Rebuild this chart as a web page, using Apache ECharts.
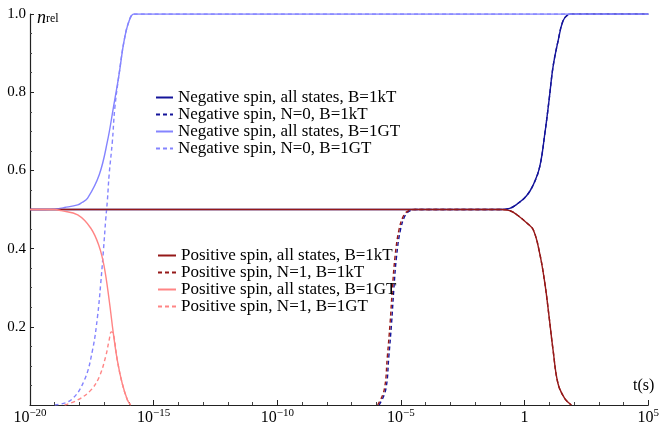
<!DOCTYPE html>
<html>
<head>
<meta charset="utf-8">
<script src="https://cdn.jsdelivr.net/npm/echarts@6/dist/echarts.min.js"></script>
<style>
  html, body { margin: 0; padding: 0; background: #fff; }
  #chart { width: 662px; height: 428px; }
</style>
</head>
<body>
<div id="chart"></div>
<script>
// x values are log10(t / s), y values are n_rel
const negAll1kT_x = [-20, -1.5, -1.0, -0.6, -0.3, 0.08, 0.35, 0.61, 0.82, 0.99, 1.15, 1.35, 1.55, 1.75, 1.9, 2.2, 5]
const negAll1kT_y = [0.5, 0.5, 0.5, 0.503, 0.514, 0.535, 0.563, 0.609, 0.695, 0.78, 0.865, 0.93, 0.982, 0.998, 1.0, 1.0, 1.0]

const negN01kT_x = [-5.88, -5.62, -5.49, -5.38, -5.29, -5.18, -5.02, -4.82, -4.62, -4.4, -4.0, -1.5, -1.0, -0.6, -0.3, 0.08, 0.35, 0.61, 0.82, 0.99, 1.15, 1.35, 1.55, 1.75, 1.9, 2.2, 5]
const negN01kT_y = [0, 0.038, 0.124, 0.209, 0.294, 0.379, 0.448, 0.486, 0.497, 0.5, 0.5, 0.5, 0.5, 0.503, 0.514, 0.535, 0.563, 0.609, 0.695, 0.78, 0.865, 0.93, 0.982, 0.998, 1.0, 1.0, 1.0]

const negAll1GT_x = [-20, -19.4, -19.0, -18.6, -18.07, -17.9, -17.67, -17.2, -16.87, -16.63, -16.4, -16.2, -16.0, -15.8, -15.5, 5]
const negAll1GT_y = [0.5, 0.5, 0.501, 0.505, 0.512, 0.518, 0.529, 0.589, 0.674, 0.76, 0.845, 0.93, 0.981, 1.0, 1.0, 1.0]

const negN01GT_x = [-19.0, -18.34, -17.8, -17.47, -17.27, -17.14, -17.03, -16.94, -16.87, -16.8, -16.67, -16.57, -16.4, -16.2, -16.0, -15.8, -15.5, 5]
const negN01GT_y = [0, 0.013, 0.064, 0.141, 0.226, 0.311, 0.396, 0.473, 0.524, 0.589, 0.674, 0.76, 0.845, 0.93, 0.981, 1.0, 1.0, 1.0]

const posAll1kT_x = [-20, -1.5, -1.0, -0.6, -0.3, 0.08, 0.35, 0.61, 0.82, 0.99, 1.15, 1.35, 1.62, 1.89]
const posAll1kT_y = [0.5, 0.5, 0.5, 0.497, 0.486, 0.466, 0.448, 0.388, 0.311, 0.226, 0.141, 0.055, 0.017, 0]

const posN11kT_x = [-5.94, -5.68, -5.55, -5.44, -5.35, -5.24, -5.08, -4.88, -4.68, -4.45, -4.0, -1.5, -1.0, -0.6, -0.3, 0.08, 0.35, 0.61, 0.82, 0.99, 1.15, 1.35, 1.62, 1.89]
const posN11kT_y = [0, 0.038, 0.124, 0.209, 0.294, 0.379, 0.448, 0.486, 0.497, 0.5, 0.5, 0.5, 0.5, 0.497, 0.486, 0.466, 0.448, 0.388, 0.311, 0.226, 0.141, 0.055, 0.017, 0]

const posAll1GT_x = [-20, -19.4, -19.0, -18.74, -18.07, -17.54, -17.2, -17.0, -16.8, -16.63, -16.47, -16.27, -16.06, -15.93]
const posAll1GT_y = [0.5, 0.5, 0.5, 0.497, 0.486, 0.452, 0.405, 0.354, 0.269, 0.183, 0.115, 0.055, 0.013, 0]

const posN11GT_x = [-18.6, -18.07, -17.54, -17.2, -16.94, -16.8, -16.71, -16.63, -16.47, -16.27, -16.06, -15.93]
const posN11GT_y = [0, 0.013, 0.038, 0.072, 0.124, 0.166, 0.187, 0.183, 0.115, 0.055, 0.013, 0]

const xTicks = [-20, -15, -10, -5, 0, 5]
const yTicks = [0.2, 0.4, 0.6, 0.8, 1.0]

const negNames = [
  'Negative spin, all states, B=1kT',
  'Negative spin, N=0, B=1kT',
  'Negative spin, all states, B=1GT',
  'Negative spin, N=0, B=1GT'
]
const posNames = [
  'Positive spin, all states, B=1kT',
  'Positive spin, N=1, B=1kT',
  'Positive spin, all states, B=1GT',
  'Positive spin, N=1, B=1GT'
]

const FONT = 'Liberation Serif'
const darkBlue = '#14149a'
const lightBlue = '#8484ff'
const darkRed = '#951818'
const lightRed = '#ff8585'

function line (name, xs, ys, color, dashed) {
  return {
    name: name,
    type: 'line',
    data: xs.map((x, i) => [x, ys[i]]),
    symbol: 'none',
    showSymbol: false,
    smooth: 0.4,
    lineStyle: { color: color, width: 1.4, type: dashed ? [4, 3] : 'solid' },
    itemStyle: { color: color },
    emphasis: { disabled: true }
  }
}

const legendText = { fontFamily: FONT, fontSize: 17, color: '#000', lineHeight: 16 }

const chart = echarts.init(document.getElementById('chart'))
chart.setOption({
  animation: false,
  backgroundColor: '#fff',
  grid: { left: 30, right: 10, top: 14, bottom: 23 },
  legend: [
    {
      data: negNames,
      orient: 'vertical',
      left: 155,
      top: 89,
      padding: 0,
      itemGap: 0,
      itemWidth: 17,
      itemHeight: 14,
      itemStyle: { opacity: 0 },
      textStyle: legendText,
      selectedMode: false
    },
    {
      data: posNames,
      orient: 'vertical',
      left: 157,
      top: 247,
      padding: 0,
      itemGap: 0,
      itemWidth: 18,
      itemHeight: 14,
      itemStyle: { opacity: 0 },
      textStyle: legendText,
      selectedMode: false
    }
  ],
  xAxis: {
    type: 'value',
    min: -20,
    max: 5,
    interval: 5,
    axisLine: { show: true, onZero: false, lineStyle: { color: '#222', width: 1.2 } },
    axisTick: { show: true, inside: true, length: 5, lineStyle: { color: '#222' } },
    minorTick: { show: true, splitNumber: 5, length: 3, lineStyle: { color: '#444' } },
    splitLine: { show: false },
    axisLabel: {
      margin: 3,
      showMinLabel: true,
      showMaxLabel: true,
      formatter: function (v) {
        if (xTicks.indexOf(v) < 0) return ''
        if (v === 0) return '{b|1}'
        return '{b|10}{s|' + String(v).replace('-', '\u2212') + '}'
      },
      rich: {
        b: { fontFamily: FONT, fontSize: 16, color: '#000', lineHeight: 18, verticalAlign: 'bottom' },
        s: { fontFamily: FONT, fontSize: 11, color: '#000', verticalAlign: 'top' }
      }
    }
  },
  yAxis: {
    type: 'value',
    min: 0,
    max: 1,
    interval: 0.2,
    axisLine: { show: true, onZero: false, lineStyle: { color: '#222', width: 1.2 } },
    axisTick: { show: true, inside: true, length: 4, lineStyle: { color: '#222' } },
    minorTick: { show: true, splitNumber: 4, length: 2, lineStyle: { color: '#444' } },
    splitLine: { show: false },
    axisLabel: {
      margin: 4,
      fontFamily: FONT,
      fontSize: 15,
      color: '#000',
      formatter: function (v) {
        return yTicks.some(t => Math.abs(t - v) < 1e-9) ? v.toFixed(1) : ''
      }
    }
  },
  graphic: [
    {
      type: 'text',
      left: 37,
      top: 9,
      style: {
        text: '{n|n}{r|rel}',
        rich: {
          n: { fontFamily: FONT, fontSize: 18, fontStyle: 'italic', fill: '#000', verticalAlign: 'top', lineHeight: 16 },
          r: { fontFamily: FONT, fontSize: 12, fill: '#000', verticalAlign: 'bottom' }
        }
      }
    },
    {
      type: 'text',
      left: 633,
      top: 378,
      style: { text: 't(s)', fontFamily: FONT, fontSize: 16, fill: '#000' }
    }
  ],
  series: [
    line(negNames[0], negAll1kT_x, negAll1kT_y, darkBlue, false),
    line(negNames[1], negN01kT_x, negN01kT_y, darkBlue, true),
    line(negNames[2], negAll1GT_x, negAll1GT_y, lightBlue, false),
    line(negNames[3], negN01GT_x, negN01GT_y, lightBlue, true),
    line(posNames[0], posAll1kT_x, posAll1kT_y, darkRed, false),
    line(posNames[1], posN11kT_x, posN11kT_y, darkRed, true),
    line(posNames[2], posAll1GT_x, posAll1GT_y, lightRed, false),
    line(posNames[3], posN11GT_x, posN11GT_y, lightRed, true)
  ]
})
</script>
</body>
</html>
